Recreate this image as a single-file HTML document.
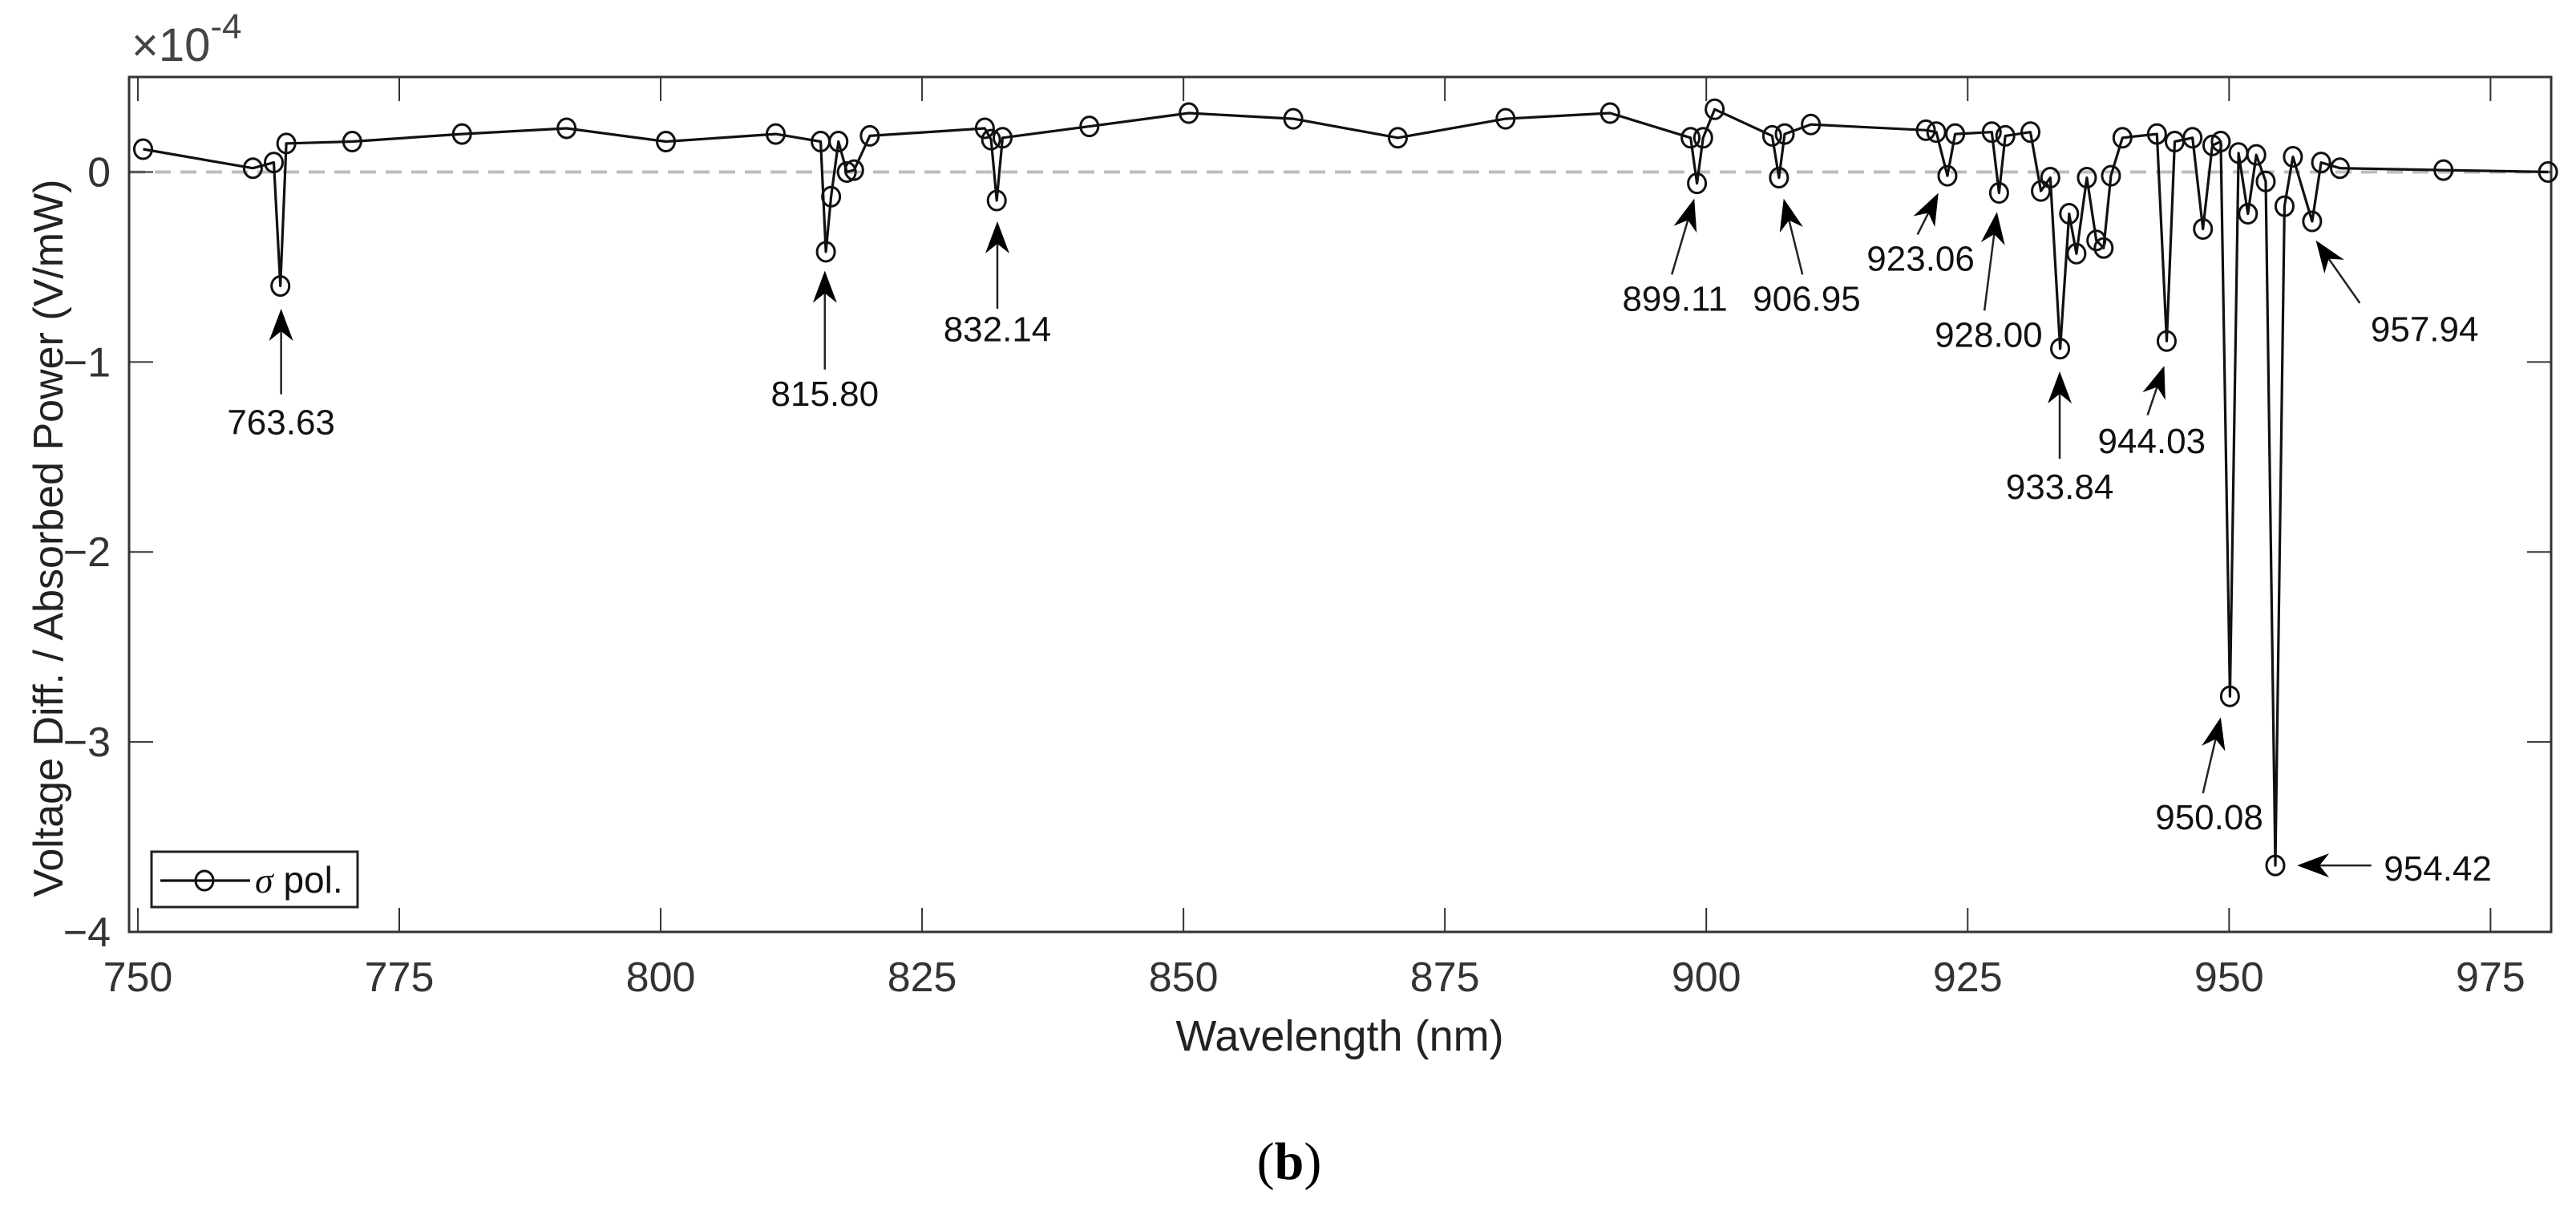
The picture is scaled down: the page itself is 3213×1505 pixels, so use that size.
<!DOCTYPE html>
<html><head><meta charset="utf-8"><style>
html,body{margin:0;padding:0;background:#fff;}
svg{display:block;font-family:"Liberation Sans",Arial,sans-serif;}
</style></head><body>
<svg id="chart" width="3213" height="1505" viewBox="0 0 3213 1505" xmlns="http://www.w3.org/2000/svg">
<rect x="0" y="0" width="3213" height="1505" fill="#fff"/>
<g id="plot"></g>
</svg>
<script>
const wavelengths=[750.5,761,763,763.63,764.2,770.5,781,791,800.5,811,815.3,815.8,816.3,817,817.8,818.5,820,831,831.6,832.14,832.7,841,850.5,860.5,870.5,880.8,890.8,898.5,899.11,899.7,900.8,906.3,906.95,907.5,910,921,922,923.06,923.8,927.3,928.0,928.6,931,932,932.9,933.84,934.7,935.4,936.4,937.3,938.0,938.7,939.8,943.1,944.03,944.8,946.5,947.5,948.4,949.2,950.08,950.9,951.8,952.6,953.5,954.42,955.3,956.1,957.94,958.8,960.6,970.5,980.5];
const values=[0.12,0.02,0.05,-0.60,0.15,0.16,0.20,0.23,0.16,0.20,0.16,-0.42,-0.13,0.16,0.00,0.01,0.19,0.23,0.17,-0.15,0.18,0.24,0.31,0.28,0.18,0.28,0.31,0.18,-0.06,0.18,0.33,0.19,-0.03,0.20,0.25,0.22,0.21,-0.02,0.20,0.21,-0.11,0.19,0.21,-0.10,-0.03,-0.93,-0.22,-0.43,-0.03,-0.36,-0.40,-0.02,0.18,0.20,-0.89,0.16,0.18,-0.30,0.14,0.16,-2.76,0.10,-0.22,0.09,-0.05,-3.65,-0.18,0.08,-0.26,0.05,0.02,0.01,0.00];
const xTicks=[750,775,800,825,850,875,900,925,950,975];
const yTicks=[0,-1,-2,-3,-4];
const annLabels=["763.63","815.80","832.14","899.11","906.95","923.06","928.00","933.84","944.03","950.08","954.42","957.94"];
const annTip=[[763.7,-0.72],[815.7,-0.52],[832.2,-0.26],[898.85,-0.14],[907.4,-0.14],[922.2,-0.11],[927.8,-0.21],[933.8,-1.05],[943.8,-1.02],[949.2,-2.87],[956.5,-3.65],[958.3,-0.36]];
const annTail=[[763.7,-1.17],[815.7,-1.04],[832.2,-0.72],[896.7,-0.54],[909.2,-0.54],[920.2,-0.33],[926.6,-0.73],[933.8,-1.51],[942.2,-1.28],[947.5,-3.27],[963.6,-3.65],[962.5,-0.69]];
const annText=[[763.7,-1.38],[815.7,-1.23],[832.2,-0.89],[897.0,-0.73],[909.6,-0.73],[920.5,-0.52],[927.0,-0.92],[933.8,-1.72],[942.6,-1.48],[948.1,-3.46],[964.8,-3.73],[968.7,-0.89]];

const L=161,R=3182,T=96,B=1162,XMIN=749.16,XMAX=980.8,YMIN=-4,YMAX=0.5;
const sx=v=>L+(v-XMIN)/(XMAX-XMIN)*(R-L);
const sy=v=>B-(v-YMIN)/(YMAX-YMIN)*(B-T);
const NS="http://www.w3.org/2000/svg";
const g=document.getElementById('plot');
function mk(tag,attrs,parent){const e=document.createElementNS(NS,tag);for(const k in attrs)e.setAttribute(k,attrs[k]);(parent||g).appendChild(e);return e;}

let z=mk('line',{x1:L,x2:R,y1:sy(0),y2:sy(0),stroke:'#bdbdbd','stroke-width':4,'stroke-dasharray':'20 12'});



let box=mk('rect',{x:L,y:T,width:R-L,height:B-T,fill:'none',stroke:'#333','stroke-width':3});



xTicks.forEach(t=>{
  const x=sx(t);
  let a=mk('line',{x1:x,x2:x,y1:B,y2:B-30,stroke:'#333','stroke-width':2});
  
  
  let b=mk('line',{x1:x,x2:x,y1:T,y2:T+30,stroke:'#333','stroke-width':2});
  
  
  let tx=mk('text',{x:x,y:1236,'font-size':52,'text-anchor':'middle',fill:'#333'});
  tx.textContent=String(t);
  
  
});
yTicks.forEach(t=>{
  const y=sy(t);
  let a=mk('line',{x1:L,x2:L+30,y1:y,y2:y,stroke:'#333','stroke-width':2});
  
  
  let b=mk('line',{x1:R,x2:R-30,y1:y,y2:y,stroke:'#333','stroke-width':2});
  
  
  let tx=mk('text',{x:138,y:y+18,'font-size':52,'text-anchor':'end',fill:'#333'});
  tx.textContent=t<0?'\u2212'+Math.abs(t):String(t);
  
  
});

let pts=wavelengths.map((w,i)=>sx(w).toFixed(1)+','+sy(values[i]).toFixed(1)).join(' ');
let pl=mk('polyline',{points:pts,fill:'none',stroke:'#111','stroke-width':3.2,'stroke-linejoin':'round'});


wavelengths.forEach((w,i)=>{
  let c=mk('ellipse',{cx:sx(w),cy:sy(values[i]),rx:11,ry:12,fill:'none',stroke:'#111','stroke-width':3});
  
  
});

annLabels.forEach((lab,i)=>{
  const x1=sx(annTail[i][0]),y1=sy(annTail[i][1]),x2=sx(annTip[i][0]),y2=sy(annTip[i][1]);
  const dx=x2-x1,dy=y2-y1,len=Math.hypot(dx,dy),ux=dx/len,uy=dy/len,px=-uy,py=ux;
  const hl=40,hw=15,back=28;
  let ln=mk('line',{x1:x1,y1:y1,x2:x2-ux*back,y2:y2-uy*back,stroke:'#222','stroke-width':2.5});
  
  
  const bx=x2-ux*hl,by=y2-uy*hl;
  const d=`M${x2},${y2} L${bx+px*hw},${by+py*hw} L${x2-ux*back},${y2-uy*back} L${bx-px*hw},${by-py*hw} Z`;
  let hd=mk('path',{d:d,fill:'#000'});
  
  
  const anchor=(lab==='954.42')?'start':'middle';
  let tx=mk('text',{x:sx(annText[i][0]),y:sy(annText[i][1]),'font-size':44,'text-anchor':anchor,fill:'#111'});
  tx.textContent=lab;
  
  
});
</script>
<svg style="position:absolute;left:0;top:0" width="3213" height="1505" viewBox="0 0 3213 1505" xmlns="http://www.w3.org/2000/svg" font-family="Liberation Sans, Arial, sans-serif">
  <g>
    <rect x="189" y="1062" width="257" height="69" fill="#fff" stroke="#222" stroke-width="3"/>
    <line x1="200" y1="1098" x2="312" y2="1098" stroke="#111" stroke-width="3.2"/>
    <ellipse cx="255" cy="1098" rx="11" ry="12" fill="none" stroke="#111" stroke-width="3"/>
    <text x="318" y="1113" font-size="46" fill="#111"><tspan font-family="Liberation Serif, serif" font-style="italic">σ</tspan> pol.</text>
  </g>
  <text x="164" y="76" font-size="58" fill="#444">×10<tspan dy="-28" font-size="44">-4</tspan></text>
  <text transform="translate(78,671) rotate(-90)" text-anchor="middle" font-size="52" fill="#222">Voltage Diff. / Absorbed Power (V/mW)</text>
  <text x="1671" y="1310" text-anchor="middle" font-size="54" fill="#222">Wavelength (nm)</text>
  <text x="1608" y="1470" text-anchor="middle" font-size="66" fill="#000" font-family="Liberation Serif, serif">(<tspan font-weight="bold">b</tspan>)</text>
</svg>
</body></html>
